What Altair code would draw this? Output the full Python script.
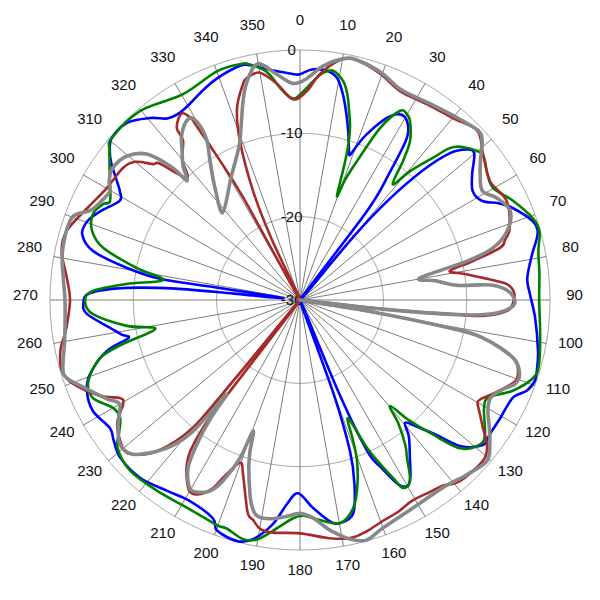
import altair as alt
import pandas as pd
import numpy as np

# ---------------- data (angle in degrees clockwise from north, level in dB) ----------------
blue_angle = [0, 3, 6.7, 9.5, 11.8, 14, 16, 18, 19, 20.3, 22, 25.5, 28.3, 30.9, 33.4, 35.2, 37, 38.5,
              40.2, 41.5, 43.5, 45.6, 48, 50, 53.8, 57.8, 61.5, 64, 66.6, 71.3, 73.8, 76, 78.8, 84.5,
              88.5, 94.4, 102, 106, 109, 111.8, 114.7, 120.5, 125.2, 127.9, 130, 132.4, 135, 137.5,
              139.5, 141.5, 145.2, 148, 150, 152, 154, 156, 157.3, 158.5, 160.3, 161.7, 163.5, 166,
              169.8, 172.3, 176.4, 180.6, 183.6, 186.9, 191, 194.6, 199.8, 201.8, 208.7, 214.8, 222,
              228.7, 233, 236, 241.8, 246.9, 250.6, 255.2, 257.5, 259, 261.6, 266.2, 269, 271.9, 274,
              275.2, 275.5, 276.5, 278.5, 278.6, 280.5, 283.3, 286.8, 290.4, 294, 298.8, 301, 303,
              306, 308.1, 310.7, 315.7, 320.5, 323.8, 327, 330.7, 335, 339.5, 345.5, 348, 351.8, 355,
              358.5]
blue_db = [-2.9, -2.3, -2.3, -3.0, -4.8, -7.0, -9.0, -11.0, -11.6, -10.2, -8.5, -5.8, -4.7, -5.0, -6.7,
           -11.5, -16.7, -30, -20, -14, -8.5, -4.8, -3.0, -2.7, -4.4, -5.5, -5.1, -3.5, -2.2, -0.5,
           -0.3, -0.8, -1.6, -2.6, -2.4, -1.7, -0.8, -0.4, -0.2, -0.7, -1.9, -2.1, -2.1, -1.9, -2.6,
           -4.0, -7.3, -9.5, -10.6, -9.0, -6.9, -5.0, -4.2, -5.0, -7.5, -10.2, -18, -30, -18, -10.9,
           -7.0, -3.6, -2.8, -3.2, -5.0, -6.8, -5.5, -2.9, -0.8, -0.1, -0.6, -1.8, -2.5, -2.1, -1.3,
           -1.3, -2.0, -2.5, -1.8, -2.2, -3.3, -6.0, -8.9, -8.2, -7.0, -4.4, -4.0, -4.8, -9.2, -15,
           -22, -28, -20, -13, -8.9, -4.5, -2.7, -2.8, -3.8, -5.3, -4.8, -3.8, -2.0, -1.0, -0.2, -0.3,
           -1.7, -3.0, -3.3, -3.0, -2.3, -1.6, -1.0, -1.2, -2.0, -2.5, -2.9]

green_angle = [1.9, 4, 5.8, 8.2, 11.1, 12.9, 14.5, 16.2, 17.5, 18.4, 19.6, 20.6, 22.3, 25, 27.9, 30, 31.6,
               34.7, 36.5, 38.7, 40.5, 43.1, 44.6, 46.8, 51.3, 56, 59.9, 65, 70.6, 74, 78.4, 83.8, 90, 98,
               105, 108.5, 113.2, 117.2, 120.4, 125.9, 128.7, 132.8, 135.5, 137.8, 139.7, 141.5, 144,
               145.9, 148.7, 151.3, 152.4, 154, 155.6, 157.9, 159.3, 160.5, 163, 165.7, 169.8, 175.6, 179,
               181.8, 186.7, 190.2, 193.4, 197.8, 200.2, 206.9, 216.8, 224.8, 230.9, 234, 236.8, 240,
               244.7, 249, 253.8, 256, 258.7, 261.5, 266.1, 269.7, 272.5, 275.3, 278.3, 281.1, 284.8,
               288.4, 292.6, 295.9, 297.5, 302.3, 308, 310.7, 319.8, 330.4, 340, 345.7, 348, 351.8, 354.6,
               356.5, 358.6]
green_db = [-4.5, -3.4, -2.6, -2.2, -3.2, -4.6, -6.5, -8.5, -11, -13.7, -16.8, -14.5, -12, -7.2, -4.3,
            -4.3, -4.8, -6.8, -9.2, -12.2, -9.7, -6.6, -4.4, -3.2, -2.0, -2.9, -3.2, -1.8, -0.4, -0.1,
            -0.8, -1.1, -1.3, -0.9, -0.3, -0.5, -2.3, -4.5, -4.4, -2.6, -2.3, -3.8, -7.5, -10.5, -13.3,
            -11, -8.5, -7.1, -4.6, -4.3, -5.9, -8.2, -10.5, -14.7, -12, -9.5, -6.5, -4.2, -2.8, -3.6,
            -4.1, -3.8, -2.1, -0.8, -0.5, -1.2, -1.2, -1.6, -1.4, -1.1, -1.8, -3.2, -4.2, -4.1, -2.5,
            -2.8, -5.0, -8.0, -12.3, -9.0, -5.1, -4.2, -5.1, -9.1, -13.4, -10, -5.6, -3.7, -3.1, -3.7,
            -4.3, -3.0, -1.0, -0.2, -0.3, -1.6, -0.8, -0.8, -1.1, -2.4, -4.4, -5.4, -5.8]

red_angle = [1.9, 5, 9.5, 13.3, 19.5, 25.6, 32.9, 40, 46.3, 51.4, 58, 64.4, 71.1, 73.5, 75.4, 77.3, 79,
             81, 83.1, 85.6, 88, 90.5, 93, 95, 95.3, 96.2, 97.3, 99.3, 100.6, 101.7, 105.2, 109.8, 113,
             116, 118.5, 120, 122, 125, 127.6, 131, 138.5, 142.5, 146, 151, 155, 159.4, 164, 168.1, 173,
             180, 186.6, 189.8, 192, 193.9, 198.1, 200.1, 202.8, 205, 207.9, 210, 212, 214.5, 216,
             217.2, 217.5, 218.3, 219.5, 220, 223.4, 227.3, 230.1, 235.9, 239.6, 241.4, 244.4, 249.7,
             253.4, 258, 261.8, 264.1, 270, 275.4, 281.6, 286.5, 293.4, 300, 306.7, 310, 312.8, 314.2,
             317.2, 320, 323.7, 324.4, 327.5, 329, 329.3, 330, 331, 332.5, 335, 336.7, 339.3, 341.8,
             345.2, 346.6, 350, 353.9, 358]
red_db = [-4.9, -2.8, -0.8, -0.4, -1.2, -2.2, -2.0, -1.5, -0.6, -1.9, -3.1, -2.5, -3.4, -4.3, -5.2, -8.7,
          -11.7, -10, -7.9, -5.1, -4.3, -4.4, -5.1, -8, -11.9, -20, -30, -21.8, -11.7, -7.6, -3.5, -2.3,
          -3.2, -4.3, -5.2, -5.4, -4.6, -3.2, -1.7, -0.8, -1.0, -1.9, -2.2, -2.4, -2.0, -1.7, -1.1, -0.8,
          -1.2, -2.0, -1.9, -2.1, -3.0, -3.8, -8.0, -9.2, -7.4, -5, -3.6, -3.5, -4.4, -6, -7.6, -10.7,
          -14.8, -30, -18, -10, -5.0, -2.7, -2.3, -3.5, -5.4, -5.4, -3.4, -1.0, -0.2, -0.6, -1.5, -1.9,
          -2.4, -1.9, -0.8, -0.8, -2.2, -3.2, -3.5, -4.2, -6, -6.5, -10, -8, -6.3, -4.6, -3.5, -4.5, -6,
          -10, -16, -30, -22, -15.8, -9.6, -5.8, -3.2, -2.6, -2.3, -3.9, -5.9]

gray_angle = [1.8, 5.6, 10.1, 13.3, 19.5, 25.6, 32.9, 40, 46.3, 48.9, 52, 55, 59.1, 62.6, 67, 71.6, 74.9,
              76.9, 79.6, 82, 84.7, 85.5, 87.5, 90.5, 92.5, 94.2, 95.3, 96.3, 97.5, 99.3, 100.6, 101.7,
              105.2, 108.6, 111.3, 114, 117.3, 120.6, 124, 127.2, 130.7, 136.2, 142.7, 151.5, 160,
              164.5, 168.2, 171, 173.2, 176.6, 180, 183.4, 187.8, 191.3, 193, 194.5, 197, 198.3, 199.7,
              200.8, 203, 205, 207.4, 210.3, 213.7, 215.6, 217, 217.8, 218.5, 219.4, 221, 223.4, 227.3,
              231.3, 235.7, 240, 242.8, 247.3, 251.5, 254, 260.8, 270, 275, 281.7, 289.8, 293, 296,
              299.8, 302, 305.2, 309.8, 313.7, 316.1, 316.5, 319, 322, 324, 327, 329.3, 330.2, 329.7,
              327, 323, 318.5, 330.7, 335.6, 339.3, 344, 346.4, 349.9, 354.2, 358.2]
gray_db = [-3.4, -1.8, -0.6, -0.4, -1.0, -2.0, -1.8, -1.2, -0.5, -1.0, -2.5, -3.6, -4.5, -3.4, -2.6, -3.8,
           -6.0, -9.4, -15.4, -13.5, -11, -7.1, -5, -4.2, -5, -7.1, -11, -20, -30, -21.8, -11.7, -7.6,
           -3.5, -2.2, -2.3, -3.5, -4.3, -3.8, -2.6, -1.4, -0.4, -1.0, -1.7, -1.6, -0.9, -0.1, -0.7,
           -1.6, -2.4, -3.8, -4.4, -4.0, -3.5, -3.6, -4.5, -6, -9, -10.9, -13.3, -9.7, -6.5, -4.8, -4.0,
           -3.8, -5.8, -8.8, -12, -15.7, -12.5, -9.2, -7, -5.0, -2.7, -2.3, -3.6, -5.0, -4.0, -2.3, -0.5,
           -0.4, -1.4, -1.8, -1.5, -0.9, -0.9, -2.6, -3.3, -3.7, -3.0, -2.5, -3.0, -4.7, -8, -10.3,
           -8.6, -7.0, -5.8, -4.7, -4.6, -6.2, -7.9, -10.2, -13, -16, -13.1, -11.4, -9.6, -5.2, -3.0,
           -1.2, -2.8, -4.0]

series = [
    ("blue", blue_angle, blue_db, "#0000FF", 2.6),
    ("green", green_angle, green_db, "#008000", 2.6),
    ("red", red_angle, red_db, "#A52A2A", 2.6),
    ("gray", gray_angle, gray_db, "#888888", 3.6),
]

ring_levels = [0, -10, -20]
ring_labels = ["0", "-10", "-20", "-30"]
ring_label_levels = [0, -10, -20, -30]
spoke_angles = list(range(0, 360, 10))

# ---------------- geometry helpers ----------------
FLOOR = -30.0          # centre of the plot
HALF = 35.04           # half of the visible domain in dB-units (plot radius 250px == 30 units)
SIZE = 584

xs = alt.Scale(domain=[-HALF, HALF], nice=False, zero=False)
ys = alt.Scale(domain=[-HALF, HALF], nice=False, zero=False)
X = lambda f: alt.X(f, type="quantitative", scale=xs, axis=None)
Y = lambda f: alt.Y(f, type="quantitative", scale=ys, axis=None)

# grid rings
ring_rows = []
for lvl in ring_levels:
    for a in np.arange(0, 362, 2):
        ring_rows.append({"lvl": lvl, "a": float(a)})
rings = (
    alt.Chart(pd.DataFrame(ring_rows))
    .transform_calculate(r=f"datum.lvl - ({FLOOR})")
    .transform_calculate(x="datum.r*sin(datum.a*PI/180)", y="datum.r*cos(datum.a*PI/180)")
    .mark_line(color="#A8A8A8", strokeWidth=1)
    .encode(x=X("x"), y=Y("y"), detail="lvl:N", order="a:Q")
)

spokes = (
    alt.Chart(pd.DataFrame({"a": spoke_angles}))
    .transform_calculate(x0="0", y0="0",
                         x2=f"{-FLOOR}*sin(datum.a*PI/180)", y2=f"{-FLOOR}*cos(datum.a*PI/180)")
    .mark_rule(color="#5A5A5A", strokeWidth=0.8)
    .encode(x=X("x0"), y=Y("y0"), x2="x2:Q", y2="y2:Q")
)

angle_labels = (
    alt.Chart(pd.DataFrame({"a": spoke_angles}))
    .transform_calculate(x="32.95*sin(datum.a*PI/180)", y="32.95*cos(datum.a*PI/180)",
                         t="toString(datum.a)")
    .mark_text(font="Liberation Sans", fontSize=15, color="#111111", align="center",
               baseline="middle", dy=-5)
    .encode(x=X("x"), y=Y("y"), text="t:N")
)

radial_labels = (
    alt.Chart(pd.DataFrame({"t": ring_labels, "lvl": ring_label_levels}))
    .transform_calculate(x="-1.0", y=f"datum.lvl - ({FLOOR})")
    .mark_text(font="Liberation Sans", fontSize=15, color="#111111", align="center", baseline="middle")
    .encode(x=X("x"), y=Y("y"), text="t:N")
)

layers = [rings, spokes, angle_labels, radial_labels]
for name, angs, dbs, col, w in series:
    df = pd.DataFrame({"idx": list(range(len(angs))), "angle": angs, "db": dbs})
    layers.append(
        alt.Chart(df)
        .transform_calculate(r=f"datum.db - ({FLOOR})")
        .transform_calculate(x="datum.r*sin(datum.angle*PI/180)", y="datum.r*cos(datum.angle*PI/180)")
        .mark_line(color=col, strokeWidth=w, interpolate="cardinal-closed", strokeJoin="round")
        .encode(x=X("x"), y=Y("y"), order="idx:Q")
    )

chart = (
    alt.layer(*layers)
    .properties(width=SIZE, height=SIZE, padding=0, autosize="none")
    .configure_view(stroke=None)
)

chart.save("out.html", embed_options={"renderer": "svg", "actions": False})
